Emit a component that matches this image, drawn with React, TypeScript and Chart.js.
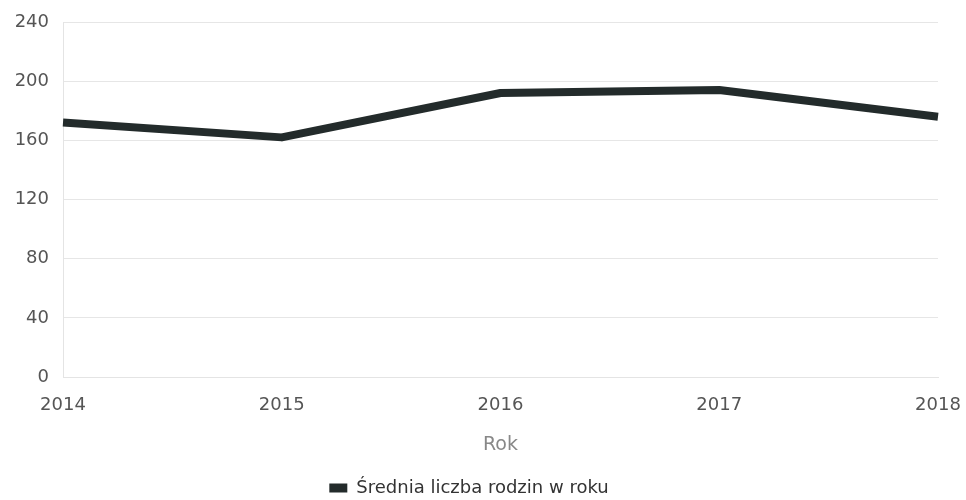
import React, { useEffect, useRef } from "react";
import { Chart, registerables } from "chart.js";

Chart.register(...registerables);

const years = ["2014", "2015", "2016", "2017", "2018"];
const avgFamilies = [172, 162, 192, 194, 176];
const seriesLabel = "Średnia liczba rodzin w roku";
const xTitle = "Rok";
const yMin = 0;
const yMax = 240;
const yStep = 40;

const LINE_COLOR = "#232b2b";

export default function App() {
  const ref = useRef<HTMLCanvasElement | null>(null);

  useEffect(() => {
    document.body.style.margin = "0";
    const ctx = ref.current;
    if (!ctx) return;
    const font = "'DejaVu Sans', sans-serif";
    const chart = new Chart(ctx, {
      type: "line",
      data: {
        labels: years,
        datasets: [
          {
            label: seriesLabel,
            data: avgFamilies,
            borderColor: LINE_COLOR,
            backgroundColor: LINE_COLOR,
            borderWidth: 8,
            pointRadius: 0,
            tension: 0,
            borderCapStyle: "butt",
            borderJoinStyle: "round",
          },
        ],
      },
      options: {
        animation: false,
        responsive: false,
        layout: { padding: { top: 22, right: 28, left: 0, bottom: -7 } },
        plugins: {
          tooltip: { enabled: false },
          legend: {
            position: "bottom",
            labels: {
              boxWidth: 18,
              boxHeight: 9,
              padding: 6,
              color: "#333",
              font: { family: font, size: 18 },
              generateLabels: (c: any) =>
                c.data.datasets.map((ds: any, i: number) => ({
                  text: ds.label,
                  fillStyle: LINE_COLOR,
                  strokeStyle: LINE_COLOR,
                  lineWidth: 0,
                  hidden: false,
                  datasetIndex: i,
                  fontColor: "#333",
                })),
            },
          },
        },
        scales: {
          x: {
            offset: false,
            grid: { display: false, drawTicks: false },
            border: { display: true, color: "#e4e4e4" },
            ticks: {
              padding: 18,
              color: "#555",
              maxRotation: 0,
              font: { family: font, size: 18 },
            },
            title: {
              display: true,
              text: xTitle,
              color: "#888",
              padding: { top: 0, bottom: 17 },
              font: { family: font, size: 19 },
            },
            afterFit: (s: any) => {
              s.height = 96;
              s.paddingLeft = 0;
              s.paddingRight = 0;
            },
          },
          y: {
            min: yMin,
            max: yMax,
            grid: { color: "#e6e6e6", lineWidth: 1, drawTicks: false },
            border: { display: true, color: "#e4e4e4" },
            ticks: {
              stepSize: yStep,
              padding: 14,
              color: "#555",
              font: { family: font, size: 18 },
            },
            afterFit: (s: any) => {
              s.width = 63;
              s.paddingTop = 0;
              s.paddingBottom = 0;
            },
          },
        },
      },
    });
    return () => chart.destroy();
  }, []);

  return (
    <div style={{ width: 966, height: 500 }}>
      <canvas ref={ref} width={966} height={500} style={{ display: "block" }} />
    </div>
  );
}
